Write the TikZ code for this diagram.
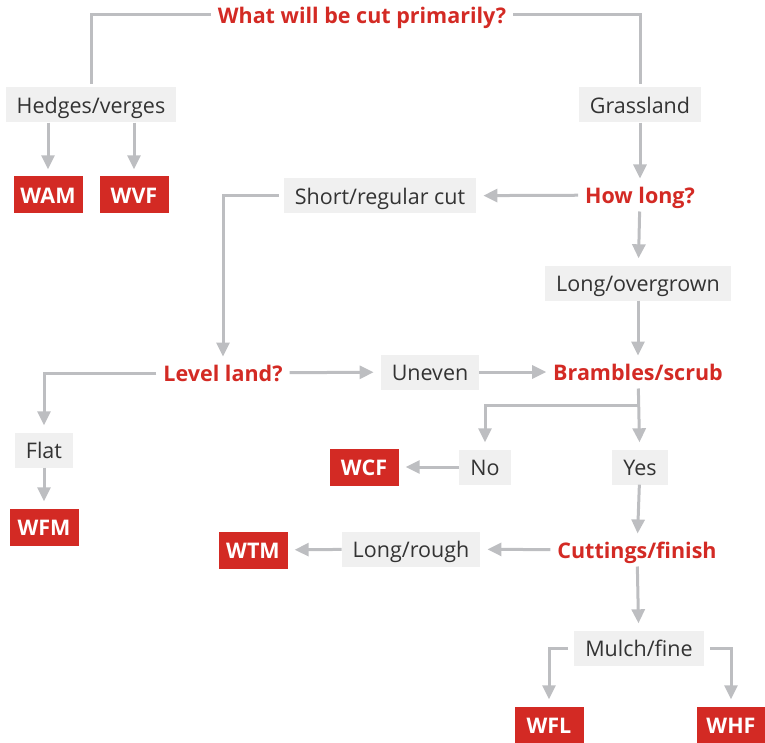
\documentclass[tikz,border=0pt]{standalone}
\usepackage{fontspec}
\setmainfont{Open Sans}
\usetikzlibrary{arrows.meta}
\definecolor{cutred}{HTML}{D32A24}
\definecolor{optgray}{HTML}{F0F0F0}
\definecolor{linegray}{HTML}{BDBEC1}
\definecolor{textgray}{HTML}{333333}
\begin{document}
\begin{tikzpicture}[x=1pt,y=-1pt,
    every node/.style={font=\fontsize{21.5}{25}\selectfont,text height=18pt,text depth=1pt},
    ask/.style={text=cutred,font=\fontsize{21.5}{25}\selectfont\bfseries,inner sep=0pt,outer sep=7pt},
    opt/.style={fill=optgray,text=textgray,minimum height=35pt,inner xsep=11pt,inner ysep=0pt},
    kit/.style={fill=cutred,text=white,font=\fontsize{21.5}{25}\selectfont\bfseries,minimum height=37pt,minimum width=69pt,inner sep=0pt},
    link/.style={draw=linegray,line width=3pt},
    arr/.style={link,-{Triangle[width=13pt,length=14pt]},shorten >=7pt}]
  \useasboundingbox (0,0) rectangle (765,743);
  % questions
  \node [ask] (what) at (362,15) {What will be cut primarily?};
  \node [ask] (howlong) at (640,195) {How long?};
  \node [ask] (level) at (223,373) {Level land?};
  \node [ask] (bramble) at (638,372) {Brambles/scrub};
  \node [ask] (cutting) at (637,550) {Cuttings/finish};
  % answers
  \node [opt] (hedge) at (91,105) {Hedges/verges};
  \node [opt] (grass) at (640,105) {Grassland};
  \node [opt] (short) at (380,196) {Short/regular cut};
  \node [opt] (over) at (638,283) {Long/overgrown};
  \node [opt] (uneven) at (430,372) {Uneven};
  \node [opt] (flat) at (44,450) {Flat};
  \node [opt] (no) at (485,467) {No};
  \node [opt] (yes) at (640,467) {Yes};
  \node [opt] (rough) at (411,549) {Long/rough};
  \node [opt] (mulch) at (639,648) {Mulch/fine};
  % machines
  \node [kit] (wam) at (48,195) {WAM};
  \node [kit] (wvf) at (134,195) {WVF};
  \node [kit] (wfm) at (44,527) {WFM};
  \node [kit] (wcf) at (364,467) {WCF};
  \node [kit] (wtm) at (253,550) {WTM};
  \node [kit] (wfl) at (549,725) {WFL};
  \node [kit] (whf) at (731,725) {WHF};
  \coordinate (split) at (640,405);

  \draw [link,shorten >=3pt] (what.west) -| (hedge.north);
  \draw [link,shorten >=3pt] (what.east) -| (grass.north);
  \draw [arr] (wam.north |- hedge.south) -- (wam.north);
  \draw [arr] (wvf.north |- hedge.south) -- (wvf.north);
  \draw [arr,shorten >=0pt] (grass) -- (howlong);
  \draw [arr] (howlong) -- (short);
  \draw [arr] (howlong) -- (over);
  \draw [arr,shorten >=0pt,shorten <=5pt] (short.west) -| (level.north);
  \draw [arr] (level) -- (uneven);
  \draw [arr] (level.west) -| (flat.north);
  \draw [arr] (flat) -- (wfm);
  \draw [arr,shorten >=0pt] (uneven) -- (bramble);
  \draw [arr,shorten >=0pt] (over) -- (bramble);
  \draw [arr] (bramble) -- (yes);
  \draw [arr] (split) -| (no.north);
  \draw [arr] (no) -- (wcf);
  \draw [arr,shorten >=0pt] (yes) -- (cutting);
  \draw [arr] (cutting) -- (rough);
  \draw [arr] (rough) -- (wtm);
  \draw [arr] (cutting) -- (mulch);
  \draw [arr,shorten <=6pt] (mulch.west) -| (wfl.north);
  \draw [arr,shorten <=6pt] (mulch.east) -| (whf.north);
\end{tikzpicture}
\end{document}
